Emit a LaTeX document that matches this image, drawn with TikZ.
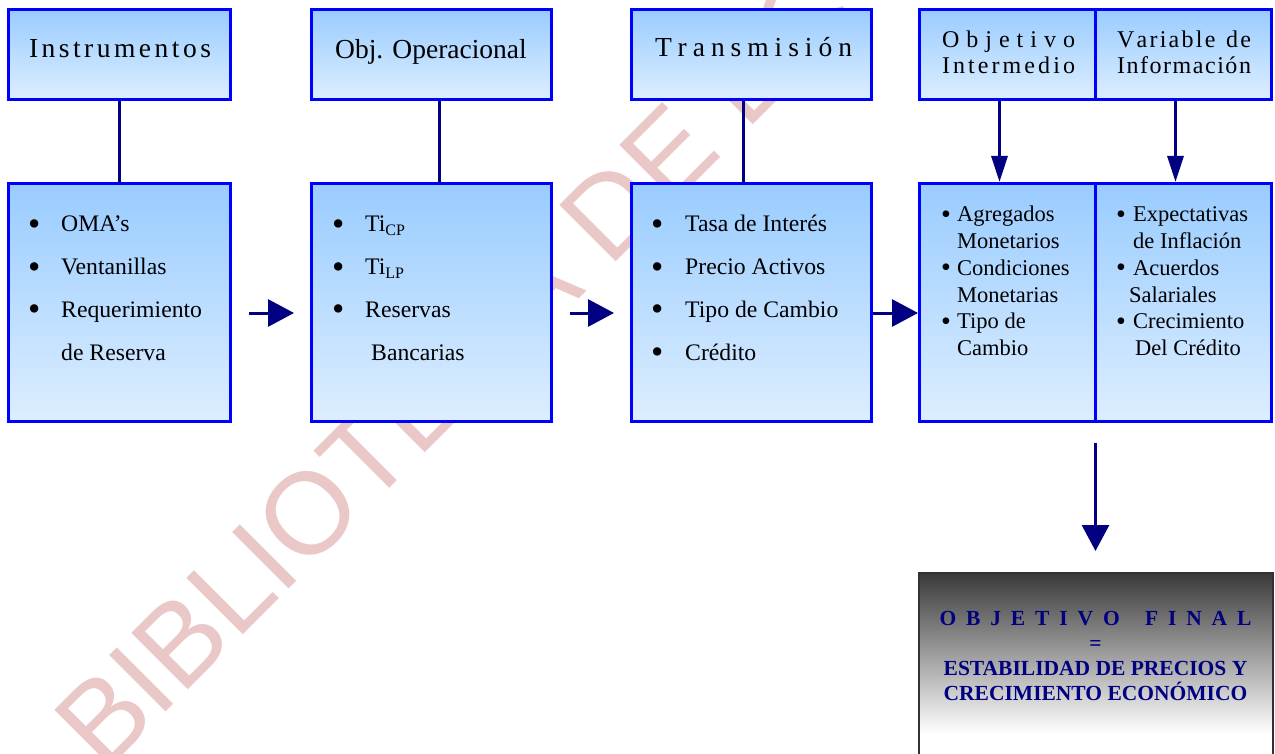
\documentclass[tikz,border=0pt]{standalone}
\usepackage{fontspec}
\setmainfont{Liberation Serif}
\newfontfamily\wmfont{Liberation Sans}
\usetikzlibrary{arrows.meta}

\definecolor{boxtop}{RGB}{153,204,255}
\definecolor{boxbot}{RGB}{221,238,255}
\definecolor{edgeblue}{RGB}{0,0,255}
\definecolor{linknavy}{RGB}{0,0,128}
\definecolor{finaldark}{RGB}{58,58,58}
\definecolor{finaledge}{RGB}{50,50,50}
\definecolor{stamp}{RGB}{234,200,200}

% vertical fades (the middle band 25bp..75bp spans the filled path)
\pgfdeclareverticalshading{bluefade}{100bp}{color(0bp)=(boxbot); color(25bp)=(boxbot); color(75bp)=(boxtop); color(100bp)=(boxtop)}
\pgfdeclareverticalshading{greyfade}{100bp}{color(0bp)=(white); color(32bp)=(white); color(75bp)=(finaldark); color(100bp)=(finaldark)}

% spread the letters of a word over a box: \hbox to <w>{\spreadletters{...}}
\makeatletter
\def\spreadletters#1{\sl@first#1\@nil}
\def\sl@first#1{\ifx#1\@nil\else#1\expandafter\sl@next\fi}
\def\sl@next#1{\ifx#1\@nil\else\hfil#1\expandafter\sl@next\fi}
\makeatother

\newcommand\headfont{\fontsize{27.5}{30}\selectfont}
\newcommand\pairfont{\fontsize{24}{26}\selectfont}
\newcommand\listfont{\fontsize{23.7}{42.7}\selectfont}
\newcommand\narrowfont{\fontsize{22.5}{26.7}\selectfont}
\newcommand\subfont{\fontsize{16}{16}\selectfont}
\newcommand\Tsub[1]{Ti\raisebox{-3.5pt}{\subfont #1}}
% list markers
\newcommand\bigdot{\raisebox{-3.5pt}{\fontsize{35}{35}\selectfont •}}
\newcommand\smalldot{\raisebox{-1.5pt}{\fontsize{28}{28}\selectfont •}}

\begin{document}
\begin{tikzpicture}[x=1pt,y=-1pt,
  panel/.style={draw=edgeblue, line width=3pt, shade, shading=bluefade,
    inner sep=0pt, minimum width=#1},
  headpanel/.style={panel=#1, minimum height=90pt},
  bodypanel/.style={panel=#1, minimum height=238pt},
  lbl/.style={anchor=base, inner sep=0pt, text=black},
  listnode/.style={anchor=base west, inner sep=0pt, text=black},
  link/.style={draw=linknavy, line width=3pt},
  smallarrow/.style={link, -{Triangle[length=26pt,width=16pt]}},
  bigarrow/.style={link, -{Triangle[length=26pt,width=27pt]}},
  goaltext/.style={anchor=base, inner sep=0pt, text=linknavy,
    font=\fontsize{21.5}{24}\selectfont\bfseries}
]
\useasboundingbox (0,0) rectangle (1275,754);
\clip (0,0) rectangle (1275,754);
\fill[white] (0,0) rectangle (1275,754);

% library stamp behind everything
\node[anchor=base west, inner sep=0pt, rotate=45, text=stamp,
  font=\wmfont\fontsize{116}{116}\selectfont] (stampmark) at (103.9,774.1)
  {BIBLIOTECA DE ECONOMIA};

% header row
\node[headpanel=222pt] (t1) at (119.5,54.5) {};
\node[headpanel=239.5pt] (t2) at (431.25,54.5) {};
\node[headpanel=240pt] (t3) at (751.5,54.5) {};
\node[headpanel=176pt] (t4) at (1007.5,54.5) {};
\node[headpanel=176pt] (t5) at (1183.5,54.5) {};

% content row
\node[bodypanel=222pt] (l1) at (119.5,302.5) {};
\node[bodypanel=239.5pt] (l2) at (431.25,302.5) {};
\node[bodypanel=240pt] (l3) at (751.5,302.5) {};
\node[bodypanel=176pt] (l4) at (1007.5,302.5) {};
\node[bodypanel=176pt] (l5) at (1183.5,302.5) {};

% final goal panel
\node[draw=finaledge, line width=2pt, shade, shading=greyfade, inner sep=0pt,
  minimum width=354pt, minimum height=187pt] (fin) at (1095.5,666.5) {};

% header labels
\node[lbl, font=\headfont] (t1a) at (120,58) {\hbox to 182pt{\spreadletters{Instrumentos}}};
\node[lbl, font=\headfont] (t2a) at (431,59) {Obj. Operacional};
\node[lbl, font=\headfont] (t3a) at (753.5,57) {\hbox to 197pt{\spreadletters{Transmisión}}};
\node[lbl, font=\pairfont] (t4a) at (1008.5,48) {\hbox to 133pt{\spreadletters{Objetivo}}};
\node[lbl, font=\pairfont] (t4b) at (1008.5,74) {\hbox to 133pt{\spreadletters{Intermedio}}};
\node[lbl, font=\pairfont] (t5a) at (1184,48) {\hbox to 134pt{\spreadletters{Variable~de}}};
\node[lbl, font=\pairfont] (t5b) at (1184,74) {\hbox to 134pt{\spreadletters{Información}}};

% bullet lists
\node[listnode] (l1a) at (28,232) {\listfont\begin{tabular}[t]{@{}p{33pt}@{}l@{}}
  \bigdot & OMA’s\\ \bigdot & Ventanillas\\ \bigdot & Requerimiento\\ & de Reserva\end{tabular}};
\node[listnode] (l2a) at (332,232) {\listfont\begin{tabular}[t]{@{}p{33pt}@{}l@{}}
  \bigdot & \Tsub{CP}\\ \bigdot & \Tsub{LP}\\ \bigdot & Reservas\\ & \hspace{6pt}Bancarias\end{tabular}};
\node[listnode] (l3a) at (651,232) {\listfont\begin{tabular}[t]{@{}p{34pt}@{}l@{}}
  \bigdot & Tasa de Interés\\ \bigdot & Precio Activos\\ \bigdot & Tipo de Cambio\\ \bigdot & Crédito\end{tabular}};
\node[listnode] (l4a) at (941,222) {\narrowfont\begin{tabular}[t]{@{}p{16pt}@{}l@{}}
  \smalldot & Agregados\\ & Monetarios\\ \smalldot & Condiciones\\ & Monetarias\\ \smalldot & Tipo de\\ & Cambio\end{tabular}};
\node[listnode] (l5a) at (1116,222) {\narrowfont\begin{tabular}[t]{@{}p{17pt}@{}l@{}}
  \smalldot & Expectativas\\ & de Inflación\\ \smalldot & Acuerdos\\ & \hspace{-4pt}Salariales\\ \smalldot & Crecimiento\\ & \hspace{2pt}Del Crédito\end{tabular}};

% final goal text
\node[goaltext] (g1) at (1095.5,625.7) {\hbox to 312pt{\spreadletters{OBJETIVO~FINAL}}};
\node[goaltext] (g2) at (1095.5,650) {=};
\node[goaltext] (g3) at (1095.5,675) {ESTABILIDAD DE PRECIOS Y};
\node[goaltext] (g4) at (1095.5,700) {CRECIMIENTO ECONÓMICO};

% vertical links
\draw[link] (t1.south) -- (l1.north);
\draw[link] ([xshift=8pt]t2.south) -- ([xshift=8pt]l2.north);
\draw[link] ([xshift=-8.5pt]t3.south) -- ([xshift=-8.5pt]l3.north);
\draw[smallarrow] ([xshift=-8pt]t4.south) -- ([xshift=-8pt]l4.north);
\draw[smallarrow] ([xshift=-8pt]t5.south) -- ([xshift=-8pt]l5.north);

% horizontal flow
\coordinate (flowrow) at (0,313);
\draw[bigarrow, shorten <=17pt, shorten >=16pt] (l1.east |- flowrow) -- (l2.west |- flowrow);
\draw[bigarrow, shorten <=17pt, shorten >=16pt] (l2.east |- flowrow) -- (l3.west |- flowrow);
\draw[bigarrow] (l3.east |- flowrow) -- (l4.west |- flowrow);

% down to the final goal
\coordinate (dropstart) at (1095.5,443);
\draw[bigarrow] (dropstart) -- ([yshift=21pt]fin.north);
\end{tikzpicture}
\end{document}
